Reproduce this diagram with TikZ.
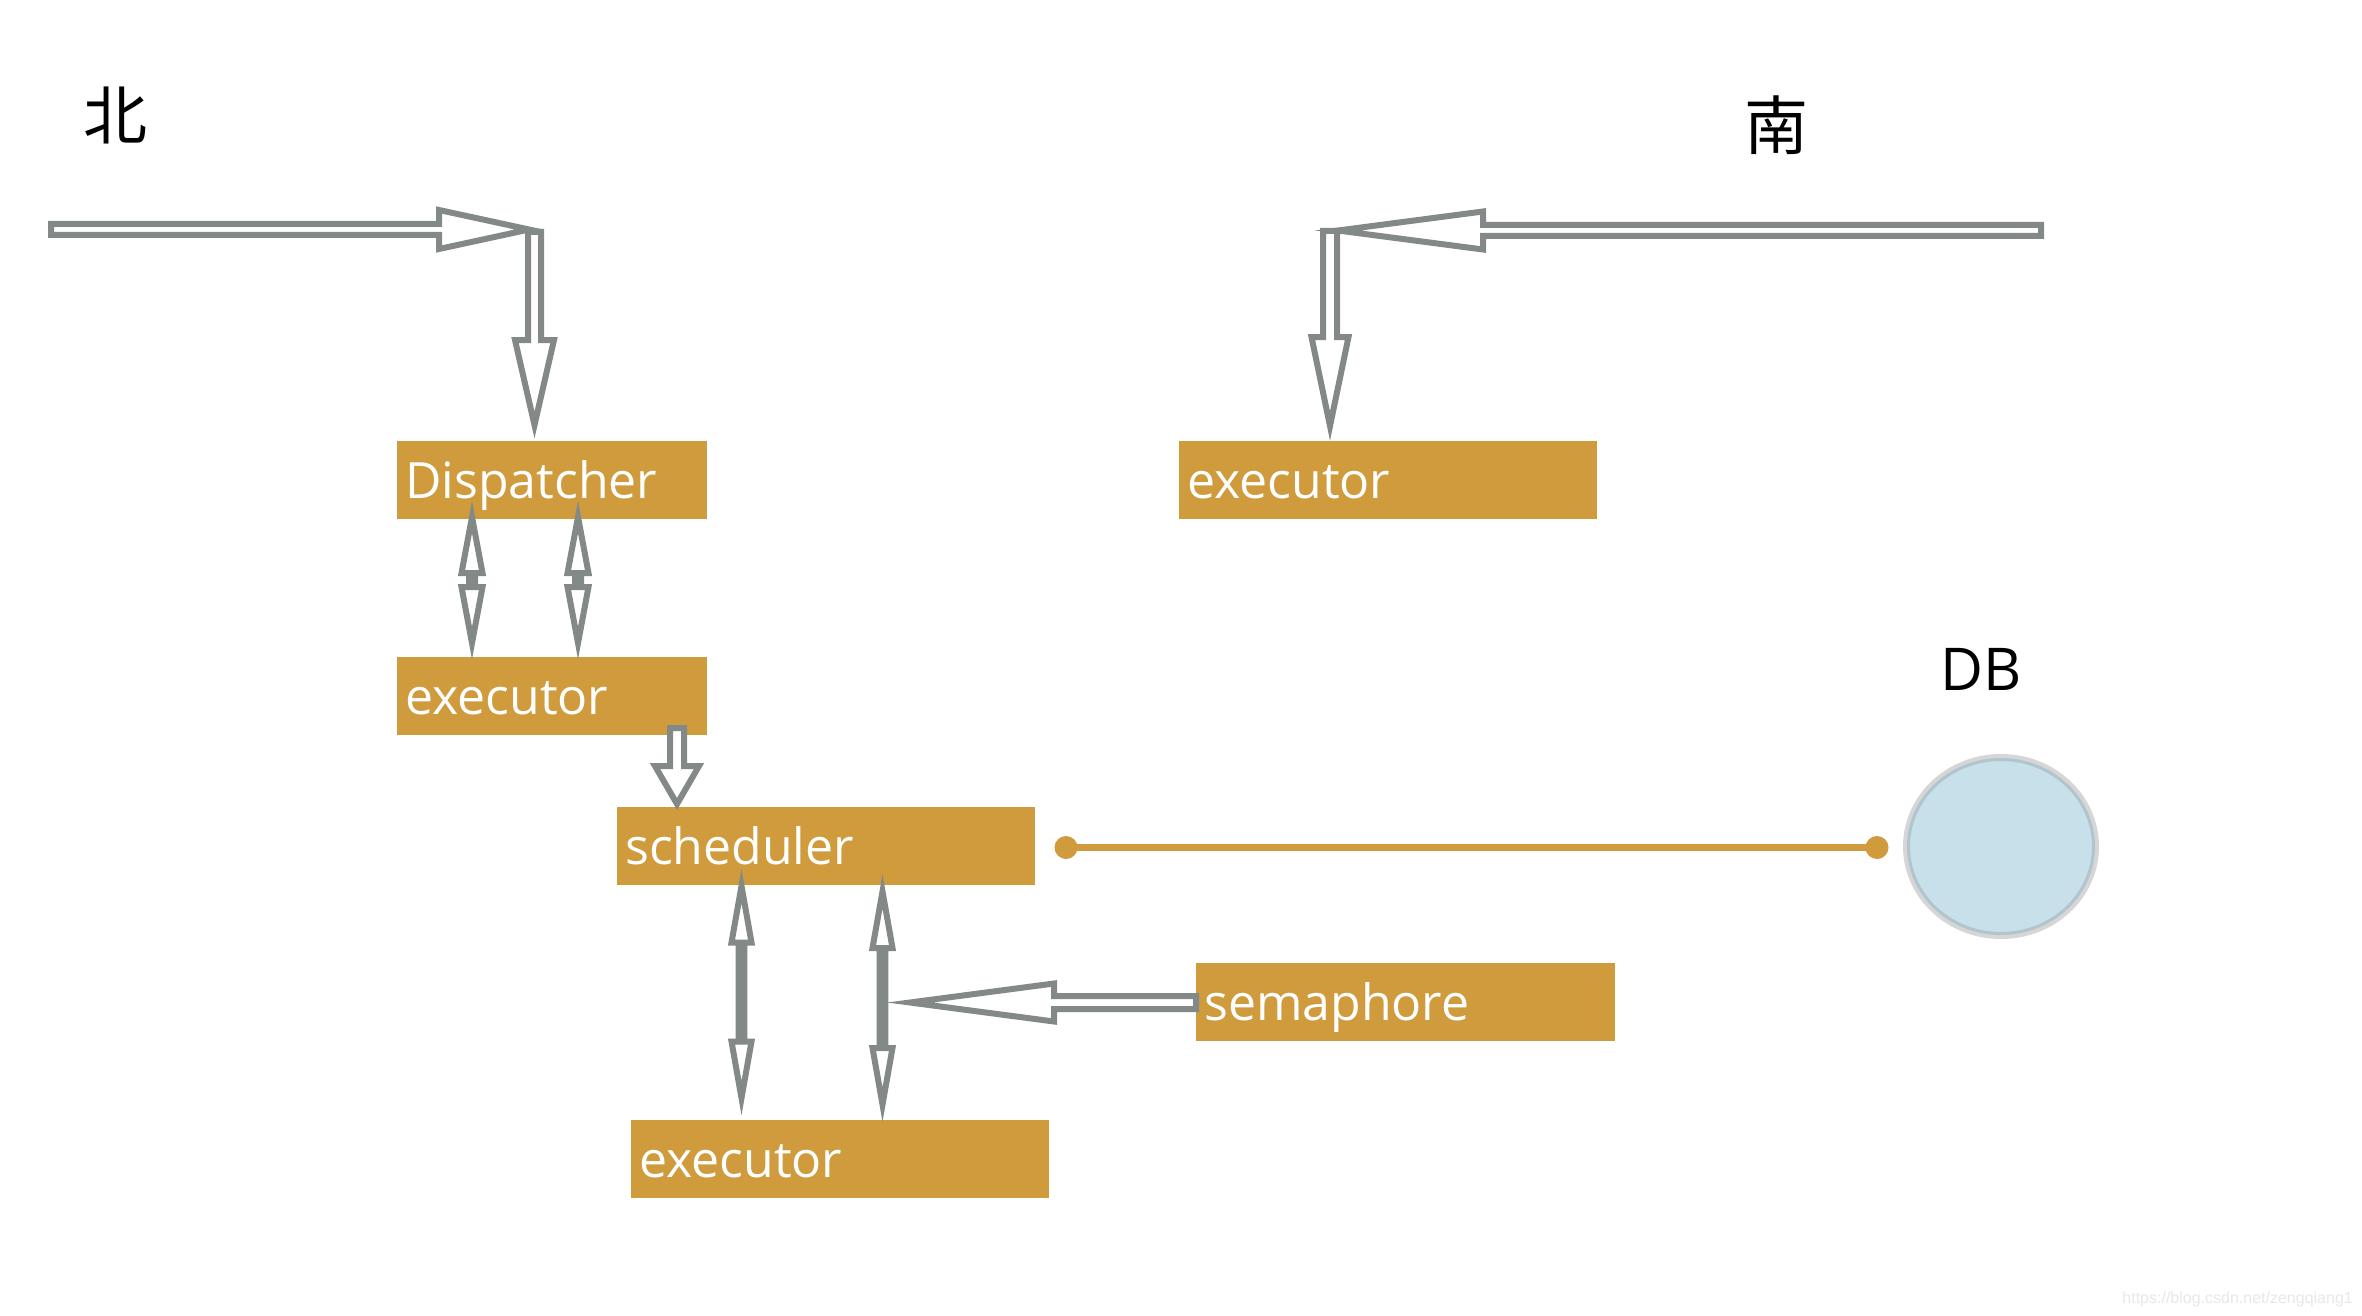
\documentclass[tikz,border=0pt]{standalone}
\usepackage{fontspec}
\usetikzlibrary{calc,shapes.geometric}
\newfontfamily\boxfont{Open Sans}
\newfontfamily\cjk{Noto Sans CJK SC}
\newfontfamily\wmfont{Liberation Sans}
\definecolor{boxorange}{RGB}{207,155,60}
\definecolor{arrowgray}{RGB}{131,137,135}
\definecolor{dbfill}{RGB}{200,224,233}
\definecolor{dbring}{RGB}{178,197,205}
\definecolor{dbouter}{RGB}{214,214,214}
\definecolor{wmgray}{RGB}{232,232,232}
% block arrow: tail, tip, shaft half-width, head length, head half-width
\newcommand\BArrow[5]{%
  \coordinate (bh) at ($(#2)!#4!(#1)$);
  \draw[blockarr] ($(#1)!#3!90:(#2)$) -- ($(bh)!#3!-90:(#1)$) -- ($(bh)!#5!-90:(#1)$) -- (#2)
     -- ($(bh)!#5!90:(#1)$) -- ($(bh)!#3!90:(#1)$) -- ($(#1)!#3!-90:(#2)$) -- cycle;}
% double block arrow: tip A, tip B, shaft half-width, head length, head half-width
\newcommand\DArrow[5]{%
  \coordinate (dha) at ($(#1)!#4!(#2)$);
  \coordinate (dhb) at ($(#2)!#4!(#1)$);
  \draw[blockarr] (#1) -- ($(dha)!#5!90:(#2)$) -- ($(dha)!#3!90:(#2)$) -- ($(dhb)!#3!-90:(#1)$)
     -- ($(dhb)!#5!-90:(#1)$) -- (#2) -- ($(dhb)!#5!90:(#1)$) -- ($(dhb)!#3!90:(#1)$)
     -- ($(dha)!#3!-90:(#2)$) -- ($(dha)!#5!-90:(#2)$) -- cycle;}
\begin{document}
\begin{tikzpicture}[x=1pt,y=-1pt,
  box/.style={rectangle, fill=boxorange, text=white, anchor=north west,
    font={\boxfont\fontsize{50}{60}\selectfont}, inner xsep=8pt, inner ysep=21pt,
    text height=36pt, text depth=0pt, align=left},
  blockarr/.style={draw=arrowgray, fill=white, line width=6pt, line join=miter, miter limit=12},
  dot/.style={circle, fill=boxorange, inner sep=0pt, minimum size=23pt},
  orangeline/.style={draw=boxorange, line width=7pt}]
\fill[white] (0,0) rectangle (2362,1316);
\useasboundingbox (0,0) rectangle (2362,1316);

% titles
\node[font={\cjk\fontsize{64}{70}\selectfont}, anchor=base, inner sep=0pt] (north) at (115,140) {北};
\node[font={\cjk\fontsize{64}{70}\selectfont}, anchor=base, inner sep=0pt] (south) at (1776,150) {南};

% boxes
\node[box, text width=294pt] (disp) at (397,441) {Dispatcher};
\node[box, text width=294pt] (ex1) at (397,657) {executor};
\node[box, text width=402pt] (exne) at (1179,441) {executor};
\node[box, text width=402pt] (sched) at (617,807) {scheduler};
\node[box, text width=402pt] (ex2) at (631,1120) {executor};
\node[box, text width=403pt] (sema) at (1196,963) {semaphore};

% DB
\node[ellipse, draw=dbouter, line width=4pt, fill=dbfill, minimum width=192pt, minimum height=181pt, inner sep=0pt] (db) at (2001,846.5) {};
\draw[dbring, line width=3pt] (db.center) ellipse [x radius=92.5pt, y radius=87pt];
\node[font={\boxfont\fontsize{59}{66}\selectfont}, anchor=base, inner sep=0pt] (dblabel) at (1981,690) {DB};

% scheduler -- DB line
\coordinate (l1) at (1066,847.5);
\coordinate (l2) at (1877,847.5);
\draw[orangeline] (l1) -- (l2);
\node[dot] (d1) at (l1) {};
\node[dot] (d2) at (l2) {};

% arrows
\coordinate (nwA) at (51,229.5);
\coordinate (nwT) at (529,229.5);
\coordinate (nwV) at (534.5,232);
\coordinate (nwVT) at (534.5,425);
\BArrow{nwA}{nwT}{5.5pt}{90pt}{19.5pt}
\BArrow{nwV}{nwVT}{6.5pt}{85pt}{19.5pt}

\coordinate (neA) at (2041,230.5);
\coordinate (neT) at (1338,230.5);
\coordinate (neV) at (1330,231);
\coordinate (neVT) at (1330,426);
\BArrow{neA}{neT}{5.5pt}{145pt}{19pt}
\BArrow{neV}{neVT}{7pt}{89pt}{18.5pt}

\coordinate (da1) at (472,517);
\coordinate (db1) at (472,643);
\coordinate (da2) at (578,517);
\coordinate (db2) at (578,643);
\DArrow{da1}{db1}{3pt}{56pt}{10.5pt}
\DArrow{da2}{db2}{3pt}{56pt}{10.5pt}

\coordinate (smA) at (677,728);
\coordinate (smT) at (677,804);
\BArrow{smA}{smT}{7pt}{38pt}{22pt}

\coordinate (sa1) at (741.5,886);
\coordinate (sb1) at (741.5,1098);
\coordinate (sa2) at (882.5,891.5);
\coordinate (sb2) at (882.5,1104.5);
\DArrow{sa1}{sb1}{2.8pt}{56.5pt}{10pt}
\DArrow{sa2}{sb2}{2.8pt}{56.5pt}{10pt}

\coordinate (seA) at (1196,1002.5);
\coordinate (seT) at (910,1002.5);
\BArrow{seA}{seT}{6.5pt}{144pt}{19pt}

% watermark
\node[font={\wmfont\fontsize{16}{18}\selectfont}, text=wmgray, anchor=base east, inner sep=0pt] (wm) at (2353,1303) {https://blog.csdn.net/zengqiang1};
\end{tikzpicture}
\end{document}
